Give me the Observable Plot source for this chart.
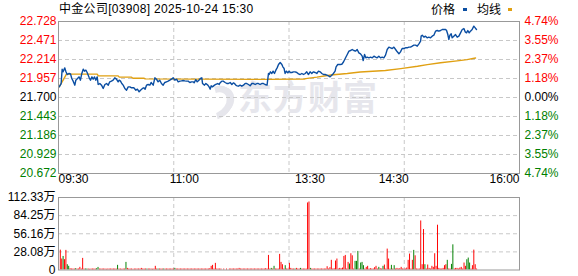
<!DOCTYPE html>
<html><head><meta charset="utf-8">
<script src="https://cdn.jsdelivr.net/npm/d3@7"></script>
<script src="https://cdn.jsdelivr.net/npm/@observablehq/plot@0.6"></script>
<style>
body{margin:0;background:#fff;}
#wrap{position:relative;width:578px;height:276px;overflow:hidden;font-family:"Liberation Sans",Arial,"Noto Sans CJK SC",sans-serif;font-size:12px;color:#000;}
#wm{position:absolute;left:238px;top:79px;font-family:"Noto Sans CJK SC",sans-serif;font-weight:bold;font-size:34px;line-height:34px;letter-spacing:1px;color:#e6e6ec;white-space:nowrap;}
#logo{position:absolute;left:200px;top:84px;width:18px;height:24px;border:7px solid #e6e6ec;border-color:#e6e6ec #e6e6ec transparent transparent;border-radius:50%;transform:rotate(25deg) skewX(-10deg);}
#title{position:absolute;left:59px;top:2px;line-height:14px;letter-spacing:0.3px;white-space:nowrap;}
.lg{position:absolute;top:2px;line-height:14px;white-space:nowrap;font-family:"Noto Sans CJK SC",sans-serif;font-size:12px;}
.sw{position:absolute;top:8px;width:4px;height:3px;}
#price,#vol{position:absolute;left:0;}
#price{top:0;}#vol{top:190px;}
svg{background:transparent!important;}
</style></head><body>
<div id="wrap">
<div id="logo"></div>
<div id="wm">东方财富</div>
<div id="title">中金公司[03908] 2025-10-24 15:30</div>
<div class="lg" style="left:431px">价格</div><div class="sw" style="left:463px;background:#0b4ea2"></div>
<div class="lg" style="left:477px">均线</div><div class="sw" style="left:508px;background:#e0a012"></div>
<div id="price"></div>
<div id="vol"></div>
</div>
<script>
// ---- axis / label data ----
const priceTicks = [22.728, 22.471, 22.214, 21.957, 21.700, 21.443, 21.186, 20.929, 20.672];
const pctLabels = ["4.74%", "3.55%", "2.37%", "1.18%", "0.00%", "1.18%", "2.37%", "3.55%", "4.74%"];
const timeLabels = ["09:30", "11:00", "13:30", "14:30", "16:00"];
const timeLabelMinutes = [0, 90, 180, 240, 330];
const gridMinutes = [82.5, 165, 247.5];
const volTicks = [0, 28.08, 56.16, 84.25, 112.33];
const volLabels = ["0", "28.08万", "56.16万", "84.25万", "112.33万"];

// ---- price series: [trading minute since 09:30, price] ----
const priceSeries = [
[0.5,21.844],[1.9,21.889],[2.6,22.083],[3.3,22.047],[4.5,22.101],[5.2,22.056],[6.2,22.011],[7.6,22.025],[8.6,22.020],[9.5,21.957],
[10.5,21.921],[11.7,21.867],[12.4,21.934],[13.6,21.957],[14.8,21.979],[15.7,21.934],[16.7,22.025],[17.7,22.083],[18.6,22.056],[19.6,22.070],
[20.5,22.038],[22.0,21.966],[22.9,21.934],[23.9,21.979],[24.8,21.948],[25.8,21.979],[26.7,21.934],[27.7,21.979],[28.4,21.876],[29.6,21.889],
[30.8,21.867],[32.0,21.822],[33.2,21.876],[34.4,21.889],[35.6,21.867],[36.7,21.912],[37.9,21.921],[39.1,21.934],[40.3,21.966],[41.5,21.948],
[42.7,21.912],[43.4,21.934],[44.4,21.921],[45.3,21.889],[46.3,21.867],[47.5,21.822],[48.7,21.799],[49.9,21.844],[51.1,21.844],[52.3,21.831],
[53.9,21.831],[55.4,21.799],[56.5,21.813],[57.7,21.777],[58.7,21.799],[60.1,21.822],[61.1,21.831],[62.0,21.813],[63.0,21.867],[64.2,21.876],
[65.4,21.867],[66.3,21.903],[67.8,21.867],[69.0,21.966],[70.1,21.948],[71.3,21.912],[72.5,21.934],[73.7,21.889],[74.9,21.867],[76.1,21.903],
[77.3,21.912],[78.5,21.921],[79.7,21.934],[80.9,21.948],[82.1,21.966],[83.3,21.934],[84.5,21.948],[85.7,21.912],[86.9,21.921],[88.0,21.925],
[89.2,21.930],[90.4,21.925],[91.6,21.921],[92.8,21.921],[94.0,21.903],[95.2,21.912],[96.4,21.912],[97.1,21.898],[98.3,21.943],[99.3,21.912],
[100.5,21.934],[101.6,21.957],[102.6,21.966],[103.1,21.889],[104.5,21.867],[105.5,21.889],[106.9,21.867],[107.8,21.844],[108.6,21.813],[109.3,21.858],
[110.2,21.844],[111.7,21.867],[112.6,21.876],[114.0,21.889],[115.0,21.876],[115.9,21.903],[116.9,21.921],[117.9,21.921],[119.3,21.903],[120.5,21.889],
[121.7,21.889],[122.9,21.903],[124.1,21.876],[125.3,21.898],[126.0,21.889],[126.9,21.867],[127.9,21.858],[128.8,21.853],[130.0,21.867],[131.2,21.853],
[132.4,21.867],[133.6,21.889],[134.8,21.889],[136.0,21.876],[137.2,21.858],[138.4,21.889],[139.6,21.889],[140.8,21.876],[142.0,21.889],[143.1,21.889],
[144.3,21.876],[145.5,21.889],[146.7,21.889],[147.9,21.876],[149.3,21.867],[150.3,22.025],[150.8,22.011],[151.7,22.047],[152.7,22.025],[153.6,22.056],
[154.6,22.025],[155.6,22.070],[156.5,22.101],[157.5,22.146],[158.7,22.173],[159.9,22.146],[160.6,22.115],[161.5,22.092],[162.2,22.025],[163.2,22.056],
[164.1,22.034],[165.1,22.056],[166.0,22.038],[167.0,22.038],[168.2,22.047],[169.4,22.047],[170.6,22.038],[171.8,22.020],[173.0,22.011],[174.2,22.025],
[175.4,22.011],[176.6,22.025],[177.7,22.047],[178.9,22.011],[180.1,22.047],[181.3,22.025],[182.5,22.047],[183.7,22.038],[184.9,22.025],[186.1,22.056],
[187.3,22.047],[188.5,22.025],[189.7,22.011],[190.9,22.011],[192.1,22.002],[193.3,21.993],[194.4,21.979],[195.6,22.002],[196.8,22.025],[198.0,22.056],
[198.7,22.115],[199.9,22.146],[201.6,22.146],[202.8,22.150],[204.0,22.180],[205.5,22.237],[206.7,22.282],[207.9,22.327],[209.1,22.336],[210.3,22.349],
[211.4,22.336],[212.6,22.327],[213.8,22.349],[215.0,22.304],[216.2,22.291],[217.4,22.259],[218.1,22.200],[219.1,22.282],[220.0,22.237],[221.0,22.246],
[222.2,22.237],[223.4,22.246],[224.6,22.237],[225.8,22.259],[227.0,22.246],[228.1,22.237],[229.3,22.259],[230.5,22.237],[231.7,22.246],[232.9,22.237],
[234.1,22.273],[235.3,22.349],[236.5,22.381],[237.7,22.372],[238.9,22.363],[240.1,22.381],[241.3,22.349],[242.5,22.318],[243.7,22.291],[244.8,22.318],
[246.0,22.363],[247.2,22.363],[248.4,22.372],[249.6,22.372],[250.8,22.381],[252.0,22.381],[253.2,22.394],[254.4,22.408],[255.6,22.408],[256.8,22.394],
[258.0,22.426],[259.2,22.462],[259.6,22.530],[260.4,22.543],[261.6,22.516],[262.7,22.530],[263.9,22.507],[265.1,22.516],[266.3,22.507],[267.5,22.530],
[268.7,22.543],[269.9,22.597],[271.1,22.606],[272.3,22.597],[273.5,22.606],[274.7,22.620],[275.9,22.620],[277.1,22.620],[277.8,22.606],[278.7,22.552],
[279.4,22.485],[280.2,22.543],[281.1,22.561],[281.8,22.507],[283.0,22.530],[284.2,22.552],[285.4,22.516],[286.6,22.530],[287.8,22.575],[289.0,22.620],
[290.2,22.633],[291.1,22.588],[292.1,22.575],[293.0,22.606],[294.0,22.575],[294.9,22.597],[296.1,22.620],[297.3,22.665],[298.3,22.642],[299.2,22.620]
];

// ---- average price line: [minute, price] ----
const avgSeries = [
[0.5,21.844],[3.3,21.934],[5.7,22.016],[27.7,22.016],[28.5,21.993],[42.7,21.993],[43.5,21.975],[52.3,21.975],[53.2,21.961],[61.1,21.961],
[62.0,21.952],[100.0,21.948],[150.0,21.945],[176.0,21.950],[177.0,21.955],[185.0,21.975],[195.0,22.005],[206.7,22.025],[216.0,22.045],[234.0,22.065],
[245.0,22.090],[257.0,22.122],[264.0,22.145],[273.5,22.170],[285.4,22.195],[292.5,22.212],[298.5,22.235]
];

// ---- volume per minute (万), minutes 0..299 ----
const volume = [
0,30.8,17,21,16,30.4,8.2,5.7,2,1.5,
1.5,1.5,2,1.5,1.5,4.1,1.5,18,1.5,1.5,
1.5,1.5,1.2,1.5,1.5,1.5,1.5,2,4,1.5,
1.5,1.5,1.5,1.5,1.2,1.5,1.5,1.5,1.5,1.5,
1.5,1.5,7.2,1.5,1.5,1.2,1.5,1.5,11.8,2.5,
1.5,1.5,1.5,1.2,1.5,1.5,1.5,1.5,1.5,2.5,
1.5,1.5,1.5,1.5,1.5,1.5,1.5,1.2,1.5,5.7,
1.5,1.5,1.5,1.5,1.5,1.5,1.5,1.5,1.5,1.5,
1.5,1.5,1.5,2.5,1.5,1.5,1.5,1.5,1.5,1.5,
1.5,1.5,1.5,1.5,1.5,1.5,1.5,1.5,1.5,1.5,
1.5,1.5,1.5,1.5,1.5,1.5,1.5,1.5,2,5.7,
7.2,1.5,10.3,1.5,1.5,1.5,1.5,0,1.5,0,
1.5,0,1.5,1.5,1.5,1.5,1.5,1.5,1.5,2.5,
1.5,1.5,1.5,1.5,1.5,1.5,1.5,1.5,1.5,1.5,
1.5,1.5,1.5,1.5,1.5,1.5,1.5,1.5,2,1.5,
22.6,1.5,2.5,1.5,5.7,1.5,1.5,1.5,24.2,11.8,
8.2,1.5,6.7,1.5,1.5,10.3,2.5,1.5,1.5,1.5,
2.5,1.5,1.5,2.5,1.5,1.5,1.5,1.5,103.9,105.4,
2.5,1.5,1.5,1.5,1.5,1.5,1.5,1.5,1.5,1.5,
1.5,1.5,5.1,1.5,3.6,15,1.5,2,13.9,17,
1.5,2.5,2,3,21,22.6,1.5,11.8,9.3,25.2,
22,1.5,13.4,13.4,28.8,1.5,10.8,11.8,6.7,1.5,
4.1,5.7,1.5,2,1.5,1.5,3.6,5.7,1.5,4.1,
2,1.5,5.7,7.7,1.5,32.4,17,1.5,7.2,1.5,
6.7,1.5,2.5,1.5,2,4.1,1.5,1.5,1.5,3,
15,24.7,1.5,15,30.4,22,1.5,1.5,1.5,76,
8.2,62.7,8.2,1.5,7.7,2.5,1.5,5.7,4.1,25.2,
5.7,69.4,2.5,1.5,1.5,2.5,6.7,8.2,15,1.5,
1.5,8.7,39,1.5,2.5,2.5,1.5,3,4.1,1.5,
10.8,5.7,15.9,18.5,10.8,1.5,6.7,30.8,8.2,1.5
];
// r = up (red), g = down (green), one letter per minute
const volumeDir = (
"rrrgrrggrr" + "rrgrrrrrrg" + "grrrrrrggr" + "rrrrrrrrrr" + "rrgrrrrrgr" +
"rrrrrrrrrr" + "rrrgrrrrrr" + "rgrrrgrrrr" + "rrrgrrrrrr" + "rrrrrrrrrr" +
"rrrrrrrrrr" + "rrrrrrrrrr" + "rrrrrrrrrr" + "rrrrrrrrrr" + "rrrrrrrrrr" +
"rrgrgrrrrr" + "rrgrrrrrrg" + "rrrgrrrrrr" + "grrrrrrrrr" + "rrrrrrrrrr" +
"rrrrrrrrgr" + "rrgggrgggr" + "rrrrrrrrrg" + "rrgrrrrrgr" + "grrrrrrrrr" +
"rrrrgrrrrr" + "rrgrrrrrrr" + "rrrrrrrrgr" + "rggrrrrrrr" + "rrgggrrrrr"
).split("");

// ---- styling ----
const RED = "#ff0000", GREEN = "#008000", BLUE = "#0b4ea2", GOLD = "#e0a012", GRID = "#c8c8c8";
const FONT = "Liberation Sans, Arial, Noto Sans CJK SC, sans-serif";
const tickColor = i => i < 4 ? RED : i === 4 ? "#000" : GREEN;
const txt = {fontSize: 12, fontFamily: FONT};

const priceChart = Plot.plot({
  width: 578, height: 190,
  marginTop: 21, marginBottom: 17, marginLeft: 58, marginRight: 59,
  x: {domain: [0, 330], axis: null},
  y: {domain: [20.672, 22.728], axis: null},
  color: {type: "identity"},
  style: {background: "transparent", overflow: "visible"},
  marks: [
    Plot.ruleY(priceTicks.slice(1, -1), {stroke: GRID, strokeDasharray: "4,3"}),
    Plot.ruleX(gridMinutes, {stroke: GRID, strokeDasharray: "4,3"}),
    Plot.line(avgSeries, {x: d => d[0], y: d => d[1], stroke: GOLD, strokeWidth: 1.4}),
    Plot.line(priceSeries, {x: d => d[0], y: d => d[1], stroke: BLUE, strokeWidth: 1.4}),
    Plot.frame({stroke: "#999"}),
    Plot.text(priceTicks, {...txt, y: d => d, text: d => d.toFixed(3), frameAnchor: "left", textAnchor: "end", dx: -2, fill: (d, i) => tickColor(i)}),
    Plot.text(priceTicks, {...txt, y: d => d, text: (d, i) => pctLabels[i], frameAnchor: "right", textAnchor: "start", dx: 5, fill: (d, i) => tickColor(i)}),
    Plot.text([0], {...txt, x: i => timeLabelMinutes[i], text: i => timeLabels[i], frameAnchor: "bottom", dy: 9, textAnchor: "start"}),
    Plot.text([1, 2, 3], {...txt, x: i => timeLabelMinutes[i], text: i => timeLabels[i], frameAnchor: "bottom", dy: 9, textAnchor: "middle"}),
    Plot.text([4], {...txt, x: i => timeLabelMinutes[i], text: i => timeLabels[i], frameAnchor: "bottom", dy: 9, textAnchor: "end"})
  ]
});
document.getElementById("price").appendChild(priceChart);

const volData = volume.map((v, i) => ({t: i, v, up: volumeDir[i] === "r"}));
const volChart = Plot.plot({
  width: 578, height: 86,
  marginTop: 7, marginBottom: 6.5, marginLeft: 58, marginRight: 59,
  x: {domain: [0, 330], axis: null},
  y: {domain: [0, 112.33], axis: null},
  color: {type: "identity"},
  style: {background: "transparent", overflow: "visible"},
  marks: [
    Plot.ruleY(volTicks.slice(1, -1), {stroke: GRID, strokeDasharray: "4,3"}),
    Plot.ruleX(gridMinutes, {stroke: GRID, strokeDasharray: "4,3"}),
    Plot.rect(volData.filter(d => d.v > 0), {x1: d => d.t + 0.3, x2: d => d.t + 1.0, y1: 0, y2: d => d.v, fill: d => d.up ? RED : GREEN}),
    Plot.frame({stroke: "#999"}),
    Plot.text(volTicks, {...txt, y: d => d, text: (d, i) => volLabels[i], frameAnchor: "left", textAnchor: "end", dx: -3, fill: "#000"})
  ]
});
document.getElementById("vol").appendChild(volChart);
</script>
</body></html>
